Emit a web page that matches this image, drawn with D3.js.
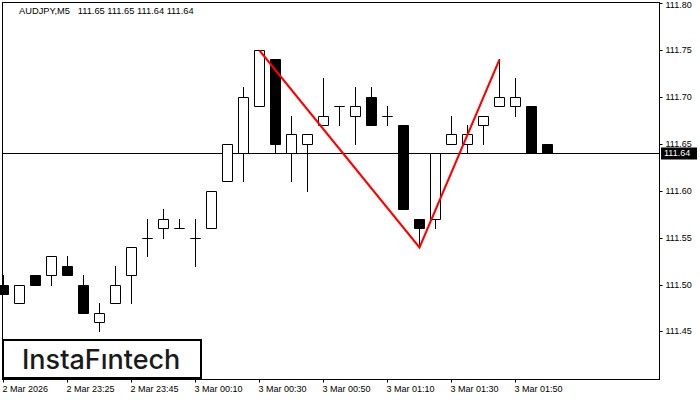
<!DOCTYPE html>
<html>
<head>
<meta charset="utf-8">
<script src="https://cdn.jsdelivr.net/npm/d3@7"></script>
<style>
    body { margin: 0; background: #fff; }
    svg { display: block; }
    .chart-text { font-family: "Liberation Sans", Arial, sans-serif; font-size: 9px; fill: #000; }
</style>
</head>
<body>
<div id="chart"></div>
<script>
/* * * * * * * * * * * * * *
*        AUDJPY M5 chart        *
* * * * * * * * * * * * * */

const symbol = "AUDJPY,M5";

// candle times (one 5 min bar missing around the rollover)
const times = [
    "2 Mar 23:05", "2 Mar 23:10", "2 Mar 23:15", "2 Mar 23:20", "2 Mar 23:25",
    "2 Mar 23:30", "2 Mar 23:35", "2 Mar 23:40", "2 Mar 23:45", "2 Mar 23:50",
    "2 Mar 23:55", "3 Mar 00:05", "3 Mar 00:10", "3 Mar 00:15", "3 Mar 00:20",
    "3 Mar 00:25", "3 Mar 00:30", "3 Mar 00:35", "3 Mar 00:40", "3 Mar 00:45",
    "3 Mar 00:50", "3 Mar 00:55", "3 Mar 01:00", "3 Mar 01:05", "3 Mar 01:10",
    "3 Mar 01:15", "3 Mar 01:20", "3 Mar 01:25", "3 Mar 01:30", "3 Mar 01:35",
    "3 Mar 01:40", "3 Mar 01:45", "3 Mar 01:50", "3 Mar 01:55", "3 Mar 02:00"
];

const opens = [
    111.50, 111.48, 111.51, 111.51, 111.52, 111.50, 111.46, 111.48, 111.51, 111.55,
    111.56, 111.56, 111.55, 111.56, 111.61, 111.64, 111.69, 111.74, 111.64, 111.65,
    111.67, 111.69, 111.68, 111.70, 111.68, 111.67, 111.57, 111.57, 111.65, 111.65,
    111.67, 111.69, 111.69, 111.69, 111.65
];
const highs = [
    111.51, 111.50, 111.51, 111.53, 111.53, 111.51, 111.48, 111.52, 111.54, 111.57,
    111.58, 111.57, 111.57, 111.60, 111.65, 111.71, 111.75, 111.74, 111.68, 111.66,
    111.72, 111.69, 111.71, 111.71, 111.69, 111.67, 111.57, 111.64, 111.68, 111.67,
    111.68, 111.74, 111.72, 111.69, 111.65
];
const lows = [
    111.49, 111.48, 111.50, 111.50, 111.51, 111.47, 111.45, 111.48, 111.48, 111.53,
    111.55, 111.56, 111.52, 111.56, 111.61, 111.61, 111.69, 111.64, 111.61, 111.60,
    111.67, 111.67, 111.65, 111.67, 111.67, 111.58, 111.54, 111.56, 111.65, 111.64,
    111.65, 111.69, 111.68, 111.64, 111.64
];
const closes = [
    111.49, 111.50, 111.50, 111.53, 111.51, 111.47, 111.47, 111.50, 111.54, 111.55,
    111.57, 111.56, 111.55, 111.60, 111.65, 111.70, 111.75, 111.65, 111.66, 111.66,
    111.68, 111.69, 111.69, 111.67, 111.68, 111.58, 111.56, 111.64, 111.66, 111.66,
    111.68, 111.70, 111.70, 111.64, 111.64
];

const priceTicks = [111.45, 111.50, 111.55, 111.60, 111.65, 111.70, 111.75, 111.80];

const tickTimes = ["2 Mar 23:05", "2 Mar 23:25", "2 Mar 23:45", "3 Mar 00:10", "3 Mar 00:30",
    "3 Mar 00:50", "3 Mar 01:10", "3 Mar 01:30", "3 Mar 01:50"];
const tickLabels = ["2 Mar 2026", "2 Mar 23:25", "2 Mar 23:45", "3 Mar 00:10", "3 Mar 00:30",
    "3 Mar 00:50", "3 Mar 01:10", "3 Mar 01:30", "3 Mar 01:50"];

// double top pattern drawn in red
const patternTimes = ["3 Mar 00:30", "3 Mar 01:20", "3 Mar 01:45"];
const patternPrices = [111.75, 111.54, 111.74];

const lastPrice = 111.64;


class CandleVis {

    constructor(parentElement) {
        this.parentElement = parentElement;
        this.candles = times.map((t, i) => ({
            time: t, open: opens[i], high: highs[i], low: lows[i], close: closes[i]
        }));
        this.initVis();
    }

    initVis() {
        let vis = this;
        vis.width = 700;
        vis.height = 400;
        vis.left = 2.5;
        vis.right = 659.5;
        vis.top = 2.5;
        vis.bottom = 379.5;
        vis.bodyHalf = 5;

        vis.svg = d3.select("#" + vis.parentElement).append("svg")
            .attr("width", vis.width)
            .attr("height", vis.height);

        vis.x = d3.scalePoint()
            .domain(times)
            .range([3.5, 547.5]);

        vis.y = d3.scaleLinear()
            .domain([111.40, 111.80])
            .range([378.4, 3.0])
            .interpolate(d3.interpolateRound);

        vis.updateVis();
    }

    // pixel-snapped y for crisp 1px lines
    py(p) {
        return this.y(p) + 0.5;
    }

    updateVis() {
        let vis = this;

        // title
        vis.svg.append("text")
            .attr("class", "chart-text")
            .attr("x", 19)
            .attr("y", 14)
            .style("font-size", "9.3px")
            .style("white-space", "pre")
            .text(symbol + "   " + [highs[34], highs[34], lows[34], closes[34]].map(d3.format(".2f")).join(" "));

        // current price line, behind candles
        vis.svg.append("line")
            .attr("x1", vis.left).attr("x2", vis.right)
            .attr("y1", vis.py(lastPrice)).attr("y2", vis.py(lastPrice))
            .attr("stroke", "#000")
            .attr("stroke-width", 1);

        let candleG = vis.svg.append("g").attr("class", "candles");

        candleG.selectAll(".wick")
            .data(vis.candles)
            .enter()
            .append("line")
            .attr("class", "wick")
            .attr("x1", d => vis.x(d.time))
            .attr("x2", d => vis.x(d.time))
            .attr("y1", d => vis.py(d.high) - 0.5)
            .attr("y2", d => vis.py(d.low) + 0.5)
            .attr("stroke", "#000")
            .attr("stroke-width", 1);

        candleG.selectAll(".body")
            .data(vis.candles)
            .enter()
            .append("path")
            .attr("class", "body")
            .attr("d", function(d) {
                let cx = vis.x(d.time);
                let y0 = vis.py(Math.max(d.open, d.close));
                let y1 = vis.py(Math.min(d.open, d.close));
                return "M" + (cx - vis.bodyHalf) + "," + y0 +
                    "H" + (cx + vis.bodyHalf) + "V" + y1 +
                    "H" + (cx - vis.bodyHalf) + "Z";
            })
            .attr("fill", d => d.close < d.open ? "#000" : "#fff")
            .attr("stroke", "#000")
            .attr("stroke-width", 1);

        // red pattern line
        let line = d3.line()
            .x(d => vis.x(d[0]))
            .y(d => vis.y(d[1]) + 0.5);

        vis.svg.append("path")
            .datum(patternTimes.map((t, i) => [t, patternPrices[i]]))
            .attr("d", line)
            .attr("fill", "none")
            .attr("stroke", "#ff0000")
            .attr("stroke-width", 2);

        // frame
        vis.svg.append("rect")
            .attr("x", vis.left)
            .attr("y", vis.top)
            .attr("width", vis.right - vis.left)
            .attr("height", vis.bottom - vis.top)
            .attr("fill", "none")
            .attr("stroke", "#000")
            .attr("stroke-width", 1);

        // price axis
        let yAxis = d3.axisRight(vis.y)
            .tickValues(priceTicks)
            .tickFormat(d3.format(".2f"))
            .tickSize(3)
            .tickPadding(3)
            .offset(0.5);

        let yG = vis.svg.append("g")
            .attr("transform", "translate(" + vis.right + ",0)")
            .call(yAxis);
        yG.select(".domain").remove();
        yG.attr("font-family", null).attr("font-size", null);
        yG.selectAll("text").attr("class", "chart-text");
        // top label sits right at the edge
        yG.selectAll("text").filter(d => d === 111.80).attr("dy", "0.45em");

        // time axis
        let xAxis = d3.axisBottom(vis.x)
            .tickValues(tickTimes)
            .tickFormat((d, i) => tickLabels[i])
            .tickSize(3)
            .tickPadding(3)
            .offset(0);

        let xG = vis.svg.append("g")
            .attr("transform", "translate(0," + vis.bottom + ")")
            .call(xAxis);
        xG.select(".domain").remove();
        xG.attr("font-family", null).attr("font-size", null);
        xG.selectAll("text")
            .attr("class", "chart-text")
            .attr("text-anchor", "start")
            .attr("x", -1);

        // last price label
        let ly = vis.py(lastPrice);
        vis.svg.append("rect")
            .attr("x", 661)
            .attr("y", ly - 6)
            .attr("width", 36)
            .attr("height", 12)
            .attr("fill", "#000");
        vis.svg.append("text")
            .attr("class", "chart-text")
            .attr("x", 664)
            .attr("y", ly)
            .attr("dy", "0.32em")
            .style("fill", "#fff")
            .text(d3.format(".2f")(lastPrice));

        // logo
        vis.svg.append("rect")
            .attr("x", 3)
            .attr("y", 340)
            .attr("width", 198)
            .attr("height", 38)
            .attr("fill", "#fff")
            .attr("stroke", "#000")
            .attr("stroke-width", 2);
        vis.svg.append("text")
            .attr("x", 22)
            .attr("y", 369)
            .attr("font-family", "Inter, 'Noto Sans', sans-serif")
            .attr("font-weight", 500)
            .attr("font-size", 27)
            .attr("fill", "#1a1a1a")
            .text("InstaFıntech");
    }
}

new CandleVis("chart");
</script>
</body>
</html>
